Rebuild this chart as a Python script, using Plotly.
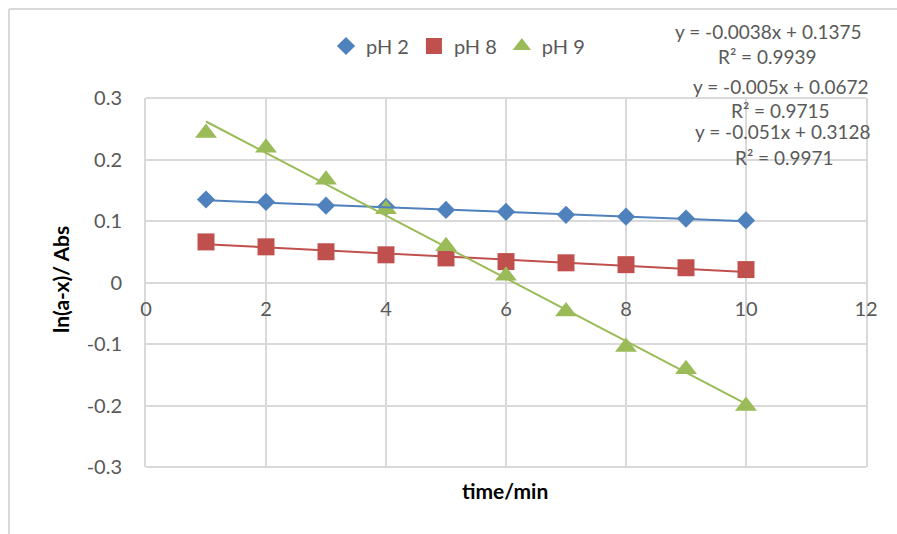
import plotly.graph_objects as go

# ---- data ----
time_min = [1, 2, 3, 4, 5, 6, 7, 8, 9, 10]
ph2 = [0.135, 0.131, 0.125, 0.123, 0.118, 0.115, 0.110, 0.107, 0.104, 0.101]
ph8 = [0.066, 0.058, 0.050, 0.045, 0.040, 0.034, 0.032, 0.029, 0.024, 0.021]
ph9 = [0.243, 0.219, 0.167, 0.119, 0.059, 0.011, -0.047, -0.105, -0.141, -0.201]

series_names = ["pH 2", "pH 8", "pH 9"]
slopes = [-0.0038, -0.005, -0.051]
intercepts = [0.1375, 0.0672, 0.3128]
r_squared = ["0.9939", "0.9715", "0.9971"]
eq_texts = ["y = -0.0038x + 0.1375", "y = -0.005x + 0.0672", "y = -0.051x + 0.3128"]

x_ticks = [0, 2, 4, 6, 8, 10, 12]
x_tick_labels = ["0", "2", "4", "6", "8", "10", "12"]
y_ticks = [-0.3, -0.2, -0.1, 0, 0.1, 0.2, 0.3]
y_tick_labels = ["-0.3", "-0.2", "-0.1", "0", "0.1", "0.2", "0.3"]

colors = ["#4F81BD", "#C0504D", "#9BBB59"]
symbols = ["diamond", "square", "triangle-up"]
sizes = [14, 17, 19]

W, H = 897, 534
L, R, T, B = 146, 31, 98, 67
PW, PH = W - L - R, H - T - B


def px_x(px):
    return (px - L) / PW


def px_y(py):
    return (H - B - py) / PH


fig = go.Figure()
for name, ys, c, s, sz in zip(series_names, [ph2, ph8, ph9], colors, symbols, sizes):
    fig.add_trace(go.Scatter(x=time_min, y=ys, mode="markers", name=name,
                             marker=dict(color=c, symbol=s, size=sz, line=dict(width=0))))

for m, b, c in zip(slopes, intercepts, colors):
    xs = [time_min[0], time_min[-1]]
    fig.add_trace(go.Scatter(x=xs, y=[m * v + b for v in xs], mode="lines",
                             line=dict(color=c, width=2), showlegend=False, hoverinfo="skip"))

FONT = "Lato, 'Open Sans', sans-serif"
GRID = "#d9d9d9"
TXT = "#595959"

fig.update_layout(
    width=W, height=H,
    margin=dict(l=L, r=R, t=T, b=B),
    paper_bgcolor="white", plot_bgcolor="white",
    font=dict(family=FONT, size=20, color=TXT),
    showlegend=True,
    legend=dict(orientation="h", x=px_x(458), y=px_y(46), xanchor="center", yanchor="middle",
                font=dict(size=20, color=TXT), itemwidth=30, bgcolor="rgba(0,0,0,0)",
                tracegroupgap=0),
    xaxis=dict(range=[0, 12], tickvals=x_ticks, ticktext=x_tick_labels,
               showgrid=True, gridcolor=GRID, gridwidth=2, zeroline=False,
               showline=False, anchor="free", position=0.5, ticks="",
               ticklabelstandoff=12, tickfont=dict(size=20, color=TXT)),
    yaxis=dict(range=[-0.3, 0.3], tickvals=y_ticks, ticktext=y_tick_labels,
               showgrid=True, gridcolor=GRID, gridwidth=2,
               zeroline=True, zerolinecolor=GRID, zerolinewidth=2,
               showline=True, mirror=True, linecolor=GRID, linewidth=2, ticks="",
               ticklabelstandoff=18, tickfont=dict(size=20, color=TXT)),
)

annotations = [
    dict(text="<b>time/min</b>", x=px_x(505), y=px_y(490), xref="paper", yref="paper",
         xanchor="center", yanchor="middle",
         showarrow=False, font=dict(size=21, color="black", family=FONT)),
    dict(text="<b>ln(a-x)/ Abs</b>", x=px_x(60), y=px_y(280), xref="paper", yref="paper",
         xanchor="center", yanchor="middle",
         showarrow=False, textangle=-90, font=dict(size=21, color="black", family=FONT)),
]
eq_pos = [(768, 31, 767, 57), (781, 86, 780, 111), (783, 132, 784, 157)]
for t, r2, (ex, ey, rx, ry) in zip(eq_texts, r_squared, eq_pos):
    annotations.append(dict(text=t, x=px_x(ex), y=px_y(ey), xref="paper", yref="paper",
                            xanchor="center", yanchor="middle",
                            showarrow=False, font=dict(size=19, color=TXT)))
    annotations.append(dict(text="R² = " + r2, x=px_x(rx), y=px_y(ry), xref="paper", yref="paper",
                            xanchor="center", yanchor="middle",
                            showarrow=False, font=dict(size=19, color=TXT)))
fig.update_layout(annotations=annotations)

fig.update_layout(shapes=[
    dict(type="line", xref="paper", yref="paper", x0=0, x1=1, y0=1, y1=1,
         line=dict(color=GRID, width=2), layer="below"),
    dict(type="line", xref="paper", yref="paper", x0=0, x1=1, y0=0, y1=0,
         line=dict(color=GRID, width=2), layer="below"),
    dict(type="line", xref="paper", yref="paper", x0=px_x(9), x1=px_x(W + 5), y0=px_y(9), y1=px_y(9),
         line=dict(color=GRID, width=2)),
    dict(type="line", xref="paper", yref="paper", x0=px_x(9), x1=px_x(9), y0=px_y(9), y1=px_y(H + 5),
         line=dict(color=GRID, width=2)),
])

fig.write_html("out.html")
